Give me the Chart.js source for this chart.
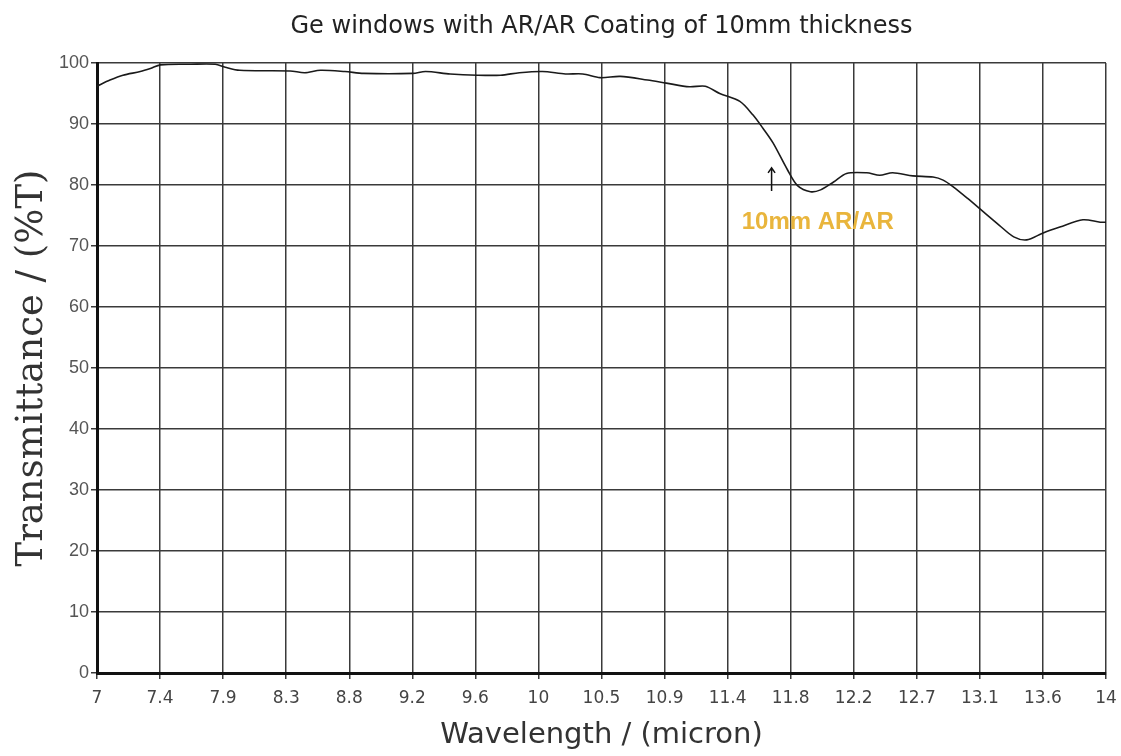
<!DOCTYPE html>
<html>
<head>
<meta charset="utf-8">
<title>Ge windows transmittance</title>
<script src="https://cdn.jsdelivr.net/npm/chart.js@4.4.0/dist/chart.umd.min.js"></script>
<style>
  html, body { margin: 0; padding: 0; background: #fff; }
  #wrap { width: 1121px; height: 756px; }
</style>
</head>
<body>
<div id="wrap"><canvas id="geChart" width="1121" height="756"></canvas></div>
<script>
// Ge window, 10mm thick, AR/AR coated - transmittance curve
const wavelength = [7.00, 7.09, 7.18, 7.30, 7.37, 7.44, 7.65, 7.82, 7.89, 7.99,
  8.34, 8.44, 8.55, 8.72, 8.85, 9.19, 9.28, 9.45, 9.64, 9.80,
  9.93, 10.09, 10.25, 10.37, 10.49, 10.63, 10.82, 10.95, 11.11, 11.22,
  11.32, 11.46, 11.55, 11.62, 11.69, 11.79, 11.86, 11.95, 12.02, 12.11,
  12.20, 12.34, 12.43, 12.52, 12.66, 12.80, 12.87, 12.94, 13.04, 13.15,
  13.26, 13.36, 13.45, 13.56, 13.68, 13.84, 13.96, 14.00];
const transmittance = [96.2, 97.2, 98.0, 98.6, 99.1, 99.7, 99.8, 99.8, 99.3, 98.8,
  98.7, 98.4, 98.8, 98.6, 98.3, 98.3, 98.6, 98.2, 98.0, 98.0,
  98.4, 98.6, 98.2, 98.2, 97.6, 97.8, 97.2, 96.7, 96.1, 96.2,
  95.0, 93.7, 91.5, 89.3, 86.9, 82.5, 79.9, 78.9, 79.2, 80.5,
  81.9, 82.0, 81.6, 82.0, 81.5, 81.3, 80.8, 79.7, 77.8, 75.6,
  73.4, 71.5, 71.0, 72.1, 73.1, 74.3, 73.9, 73.9];

// x tick labels as printed (16 equal steps between 7 and 14)
const xTickLabels = ["7", "7.4", "7.9", "8.3", "8.8", "9.2", "9.6", "10", "10.5",
  "10.9", "11.4", "11.8", "12.2", "12.7", "13.1", "13.6", "14"];
const yTicks = [0, 10, 20, 30, 40, 50, 60, 70, 80, 90, 100];

// annotation: arrow + label
const noteText = "10mm AR/AR";
const notePos = { x: 12.0, y: 73.8 };
const arrowFrom = { x: 11.68, y: 79.0 };
const arrowTo = { x: 11.68, y: 82.8 };

const annotate = {
  id: "annotate",
  afterDatasetsDraw(chart) {
    const ctx = chart.ctx;
    const xs = chart.scales.x, ys = chart.scales.y;
    ctx.save();
    // arrow
    const ax = xs.getPixelForValue(arrowFrom.x);
    const ay1 = ys.getPixelForValue(arrowFrom.y);
    const ay2 = ys.getPixelForValue(arrowTo.y);
    ctx.strokeStyle = "#111";
    ctx.lineWidth = 1.5;
    ctx.beginPath();
    ctx.moveTo(ax, ay1);
    ctx.lineTo(ax, ay2);
    ctx.moveTo(ax - 3.5, ay2 + 5);
    ctx.lineTo(ax, ay2);
    ctx.lineTo(ax + 3.5, ay2 + 5);
    ctx.stroke();
    // label
    ctx.fillStyle = "#e9b53c";
    ctx.font = "bold 24px 'Liberation Sans', Arial, sans-serif";
    ctx.textAlign = "center";
    ctx.textBaseline = "middle";
    ctx.fillText(noteText, xs.getPixelForValue(notePos.x), ys.getPixelForValue(notePos.y));
    ctx.restore();
  }
};

new Chart("geChart", {
  type: "line",
  data: {
    datasets: [{
      data: wavelength.map((w, i) => ({ x: w, y: transmittance[i] })),
      borderColor: "#1a1a1a",
      borderWidth: 1.6,
      pointRadius: 0,
      tension: 0.3,
      fill: false
    }]
  },
  options: {
    responsive: false,
    animation: false,
    layout: { padding: { left: 0, right: 15, top: 0, bottom: 0 } },
    plugins: {
      legend: { display: false },
      tooltip: { enabled: false },
      title: {
        display: true,
        fullSize: false,
        text: "Ge windows with AR/AR Coating of 10mm thickness",
        color: "#222",
        font: { family: "'DejaVu Sans', Verdana, sans-serif", size: 24, weight: "normal" },
        padding: { top: 12.6, bottom: 21.6 }
      }
    },
    scales: {
      x: {
        type: "linear",
        min: 7,
        max: 14,
        afterFit: s => { s.height = 83; s.paddingRight = 0; s.paddingLeft = 0; },
        afterBuildTicks: s => {
          s.ticks = xTickLabels.map((_, i) => ({ value: 7 + i * 7 / 16 }));
        },
        ticks: {
          autoSkip: false,
          maxRotation: 0,
          padding: 9,
          color: "#444",
          font: { family: "'DejaVu Sans', Verdana, sans-serif", size: 17 },
          callback: (v, i) => xTickLabels[i]
        },
        grid: { color: "#3a3a3a", lineWidth: 1.5, tickLength: 6 },
        border: { color: "#111", width: 3 },
        title: {
          display: true,
          text: "Wavelength / (micron)",
          color: "#333",
          font: { family: "'DejaVu Sans', Verdana, sans-serif", size: 29 },
          padding: { top: 0, bottom: 3 }
        }
      },
      y: {
        min: 0,
        max: 100,
        afterFit: s => { s.width = 97; },
        afterBuildTicks: s => { s.ticks = yTicks.map(v => ({ value: v })); },
        ticks: {
          padding: 2,
          color: "#555",
          font: { family: "'Liberation Sans', Arial, sans-serif", size: 18 }
        },
        grid: { color: "#3a3a3a", lineWidth: 1.5, tickLength: 6 },
        border: { color: "#111", width: 3 },
        title: {
          display: true,
          text: "Transmittance / (%T)",
          color: "#333",
          font: { family: "'DejaVu Serif', 'Liberation Serif', serif", size: 37 },
          padding: { top: 10, bottom: 0 }
        }
      }
    }
  },
  plugins: [annotate]
});
</script>
</body>
</html>
